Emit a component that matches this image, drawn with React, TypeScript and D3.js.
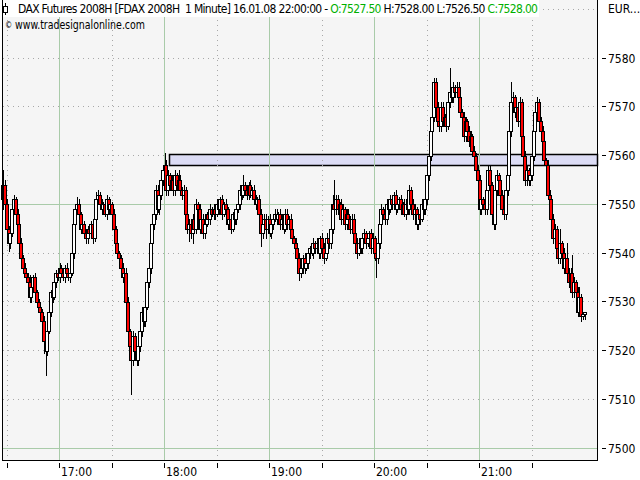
import React from "react";
import * as d3 from "d3";

// 1-minute closes from 16:28 to 22:00 (16.01.2008)
const firstOpen = 7551;
const closes = [
  7554, 7550, 7545, 7542, 7544, 7549, 7551, 7548, 7546, 7542,
  7539, 7537, 7536, 7535, 7534, 7531, 7533, 7535, 7532, 7530,
  7529, 7528, 7526, 7522, 7520, 7524, 7528, 7532, 7531, 7534,
  7536, 7535, 7537, 7536, 7535, 7537, 7536, 7535, 7536, 7540,
  7546, 7549, 7550, 7548, 7545, 7546, 7544, 7543, 7545, 7544,
  7546, 7543, 7547, 7551, 7552, 7550, 7549, 7550, 7548, 7551,
  7549, 7550, 7548, 7545, 7542, 7540, 7539, 7537, 7535, 7536,
  7530, 7524, 7521, 7518, 7523, 7520, 7518, 7521, 7524, 7528,
  7526, 7529, 7534, 7537, 7542, 7546, 7548, 7553, 7549, 7552,
  7555, 7557, 7558, 7553, 7556, 7554, 7555, 7553, 7556, 7554,
  7555, 7553, 7552, 7553, 7548, 7545, 7546, 7544, 7547, 7545,
  7550, 7549, 7545, 7547, 7544, 7546, 7548, 7547, 7549, 7548,
  7549, 7548, 7550, 7549, 7551, 7548, 7550, 7549, 7546, 7547,
  7545, 7548, 7547, 7549, 7550, 7553, 7552, 7554, 7553, 7552,
  7554, 7552, 7553, 7551, 7550, 7551, 7548, 7544, 7546, 7547,
  7545, 7547, 7544, 7546, 7547, 7548, 7547, 7548, 7546, 7547,
  7545, 7548, 7546, 7547, 7545, 7543, 7542, 7541, 7539, 7536,
  7537, 7539, 7537, 7538, 7540, 7541, 7540, 7542, 7541, 7542,
  7540, 7543, 7541, 7539, 7540, 7543, 7542, 7545, 7550, 7549,
  7551, 7549, 7550, 7547, 7549, 7546, 7548, 7547, 7545, 7547,
  7544, 7542, 7540, 7542, 7541, 7543, 7544, 7542, 7543, 7544,
  7541, 7543, 7540, 7539, 7542, 7546, 7549, 7548, 7547, 7550,
  7549, 7551, 7550, 7552, 7549, 7550, 7551, 7549, 7550, 7548,
  7550, 7549, 7553, 7550, 7548, 7549, 7546, 7548, 7547, 7550,
  7549, 7551, 7556, 7560, 7565, 7568, 7575, 7570, 7567, 7566,
  7570, 7567, 7568, 7566, 7571, 7573, 7572, 7574, 7573, 7574,
  7572, 7569, 7568, 7564, 7567, 7565, 7563, 7564, 7561, 7560,
  7557, 7555, 7549, 7551, 7550, 7549, 7553, 7557, 7554, 7548,
  7546, 7553, 7556, 7555, 7552, 7549, 7548, 7553, 7556, 7565,
  7571, 7572, 7569, 7570, 7567, 7571, 7564, 7560, 7555, 7557,
  7555, 7556, 7560, 7565, 7569, 7571, 7567, 7565, 7563, 7559,
  7558, 7552, 7551, 7547, 7543, 7545, 7541, 7539, 7542, 7540,
  7537, 7539, 7536, 7534, 7536, 7532, 7534, 7532, 7528, 7531,
  7527, 7527.5, 7528,
];
// wick length above max(open, close) and below min(open, close), in points
const upWicks = [
  3, 1, 1, 0.5, 1, 1.5, 1, 0.5, 1, 0.5,
  1, 0.5, 1, 0.5, 1, 1.5, 1, 0.5, 1, 0.5,
  0.5, 1, 0.5, 1, 0.5, 1, 1, 0.5, 1.5, 1,
  0.5, 1, 1, 0.5, 1, 0.5, 1, 0.5, 1, 1,
  1, 1, 1.5, 1, 0.5, 1, 0.5, 1, 0.5, 1,
  0.5, 1, 1, 1.5, 1, 0.5, 1, 0.5, 1, 1,
  0.5, 1, 0.5, 1, 0.5, 1, 0.5, 0.5, 1, 1,
  1, 1, 0.5, 1, 1, 0.5, 1, 0.5, 1, 1,
  1, 0.5, 1, 1, 1, 1, 1.5, 1, 1, 1,
  1, 1, 2.5, 1, 1, 0.5, 1, 0.5, 1, 0.5,
  2, 1, 0.5, 1, 0.5, 1, 1, 0.5, 1, 1,
  1, 0.5, 1, 0.5, 1, 1, 0.5, 1, 1, 0.5,
  1, 0.5, 1, 1, 0.5, 1, 0.5, 1, 0.5, 1,
  1, 0.5, 1, 0.5, 1, 1, 0.5, 2, 0.5, 1,
  0.5, 1, 0.5, 1, 1, 0.5, 1, 1, 0.5, 1,
  1, 0.5, 1, 1, 0.5, 1, 1, 0.5, 1, 1,
  0.5, 1, 1, 0.5, 1, 1, 0.5, 1, 0.5, 1,
  1, 0.5, 1, 0.5, 1, 0.5, 1, 1, 0.5, 1,
  1, 0.5, 1, 1, 0.5, 1, 0.5, 1, 2, 5,
  1, 1, 0.5, 1, 1, 0.5, 1, 1, 0.5, 1,
  1, 0.5, 1, 1, 0.5, 1, 1, 0.5, 1, 0.5,
  1, 1, 0.5, 1, 1, 1, 1, 0.5, 1, 1,
  0.5, 1, 1, 0.5, 1, 1, 0.5, 1, 0.5, 1,
  1, 0.5, 1, 0.5, 1, 1, 0.5, 1, 0.5, 1,
  1, 1, 1, 1, 1, 1, 1, 1, 1, 1,
  1, 1, 0.5, 1, 1, 5, 1, 1, 0.5, 1,
  1, 1, 0.5, 1, 1, 0.5, 1, 1, 0.5, 1,
  0.5, 1, 1, 1, 0.5, 1, 1, 1, 1, 0.5,
  1, 1, 1, 0.5, 1, 1, 0.5, 1, 1, 1,
  4, 1, 0.5, 1, 1, 1, 0.5, 1, 1, 1,
  0.5, 1, 1, 1, 1, 1, 0.5, 1, 1, 1,
  0.5, 1, 1, 0.5, 1, 1, 0.5, 1, 3, 0.5,
  1, 1, 3, 1, 1, 3.5, 1, 0.5, 1, 2,
  0.5, 0.5, 0,
];
const downWicks = [
  2, 3, 1, 1.5, 1, 0.5, 1, 1, 0.5, 1,
  1, 0.5, 1, 1, 0.5, 1, 1, 0.5, 1, 1,
  1, 0.5, 1, 2.5, 5, 1, 0.5, 1, 1, 0.5,
  1, 0.5, 1, 1, 0.5, 1, 1, 0.5, 1, 0.5,
  1, 0.5, 1, 1, 1, 0.5, 1, 1, 1, 0.5,
  1, 1, 0.5, 1, 1, 0.5, 1, 1, 0.5, 1,
  1, 0.5, 1, 1, 1, 0.5, 1, 1, 1, 0.5,
  1, 2, 1.5, 7, 1, 1.5, 1, 1, 1, 1,
  1, 1, 0.5, 1, 1, 0.5, 1, 1, 0.5, 1,
  1, 1, 0.5, 1, 1, 1, 0.5, 1, 1, 1,
  0.5, 1, 1, 1, 1, 1, 2.5, 1, 2, 1,
  1, 1, 1, 0.5, 1, 1, 0.5, 1, 1, 0.5,
  1, 1, 0.5, 1, 1, 1, 0.5, 1, 1, 1,
  1, 0.5, 1, 1, 0.5, 1, 1, 0.5, 1, 1,
  1, 0.5, 1, 1, 1, 0.5, 1, 2.5, 1, 0.5,
  2, 1, 0.5, 1, 1, 0.5, 1, 1, 1, 1,
  1, 0.5, 1, 1, 0.5, 1, 1, 1, 1.5, 1.5,
  1, 1, 1, 0.5, 1, 1, 0.5, 1, 1, 1,
  1, 1, 1, 1, 0.5, 1, 1, 1, 1, 0.5,
  1, 1, 0.5, 1, 1, 1, 1, 0.5, 1, 1,
  1, 1, 1, 0.5, 1, 1, 1, 1, 0.5, 1,
  1, 1, 1.5, 4, 1, 1, 1, 0.5, 1, 1,
  1, 0.5, 1, 1, 1, 0.5, 1, 1, 1, 0.5,
  1, 1, 1, 1, 1, 0.5, 1, 1, 1, 0.5,
  1, 1, 1, 1, 1, 1, 1, 1, 1, 1,
  1, 1, 1, 1, 0.5, 1, 1, 1, 1, 1,
  1, 1, 1, 1, 1, 1, 1, 1, 1, 1,
  1, 1.5, 1, 1, 1, 1, 1, 1, 1, 1,
  1, 1, 1, 1, 1, 1, 1, 1, 1, 1,
  1, 1, 1, 1, 1, 1, 1, 1, 1, 1,
  1, 1, 1, 1, 1, 1, 1, 1, 1, 1,
  1, 1, 1, 1, 1, 1, 1, 1, 1, 1,
  1, 1, 1, 1, 1, 1, 1, 1, 1, 1,
  1, 0.5, 1,
];
const priceTicks = [7500, 7510, 7520, 7530, 7540, 7550, 7560, 7570, 7580];
const gridPrices = [7500, 7510, 7520, 7530, 7540, 7550, 7560, 7570, 7580, 7590];
const solidPrices = [7500, 7550];
const bandPrices = [7560.3, 7558];
const titleText = "DAX Futures 2008H [FDAX 2008H  1 Minute] 16.01.08 22:00:00 - ";
const copyrightText = "www.tradesignalonline.com";
const currencyText = "EUR...";

const T = (h: number, m: number) => new Date(2008, 0, 16, h, m);

export default function App() {
  const x = d3.scaleTime().domain([T(17, 0), T(22, 0)]).range([59.5, 584.5]);
  const y = d3.scaleLinear().domain([7500, 7580]).range([448, 58]);

  const bars = closes.map((c, i) => {
    const o = i === 0 ? firstOpen : closes[i - 1];
    return {
      t: T(16, 28 + i),
      o,
      c,
      h: Math.max(o, c) + upWicks[i],
      l: Math.min(o, c) - downWicks[i],
    };
  });
  const last = bars[bars.length - 1];

  const gridTimes = d3.timeMinute.every(30)!.range(T(16, 30), T(21, 31));
  const fmt = d3.timeFormat("%H:%M");
  const font = "'Liberation Sans Narrow', 'DejaVu Sans Condensed', 'Liberation Sans', Arial, sans-serif";
  const green = "#00b000";
  const gridGreen = "#a9cba9";
  const dotGray = "#a8a8a8";
  const left = 2.5, right = 597.5, bottom = 460.5;
  const crisp = (v: number) => Math.round(v - 0.5) + 0.5;

  const bandStart = T(18, 3);

  return (
    <svg
      width={640}
      height={480}
      style={{ position: "absolute", left: 0, top: 0, display: "block", background: "#fff" }}
      fontFamily={font}
    >
      <rect x={0} y={0} width={640} height={480} fill="#ffffff" />
      <rect x={left} y={0} width={right - left} height={bottom} fill="#f5f5f5" />

      {/* band */}
      <rect
        x={crisp(x(bandStart))}
        y={crisp(y(bandPrices[0]))}
        width={right - crisp(x(bandStart))}
        height={crisp(y(bandPrices[1])) - crisp(y(bandPrices[0]))}
        fill="#dcdcf5"
        stroke="#000"
        strokeWidth={1.5}
      />

      {/* grid */}
      {gridPrices.map((p) => {
        const yy = crisp(y(p));
        const solid = solidPrices.includes(p);
        return (
          <line
            key={"h" + p}
            x1={left}
            x2={right}
            y1={yy}
            y2={yy}
            stroke={solid ? gridGreen : dotGray}
            strokeDasharray={solid ? undefined : "1,4"}
            shapeRendering="crispEdges"
          />
        );
      })}
      {gridTimes.map((t) => {
        const xx = crisp(x(t));
        const solid = t.getMinutes() === 0;
        return (
          <line
            key={"v" + t.getTime()}
            x1={xx}
            x2={xx}
            y1={0}
            y2={bottom}
            stroke={solid ? gridGreen : dotGray}
            strokeDasharray={solid ? undefined : "1,4"}
            shapeRendering="crispEdges"
          />
        );
      })}

      {/* candles */}
      {bars.map((b, i) => {
        const X = Math.round(x(b.t)) - 2;
        const yt = Math.round(y(Math.max(b.o, b.c)));
        const yb = Math.round(y(Math.min(b.o, b.c)));
        const up = b.c > b.o;
        return (
          <g key={i} shapeRendering="crispEdges">
            <line x1={X + 2.5} x2={X + 2.5} y1={Math.round(y(b.h))} y2={Math.round(y(b.l)) + 1} stroke="#000" />
            {yb > yt ? (
              <rect x={X + 0.5} y={yt + 0.5} width={3} height={yb - yt} fill={up ? "#ffffff" : "#ff0000"} stroke="#000" />
            ) : (
              <line x1={X} x2={X + 4} y1={yt + 0.5} y2={yt + 0.5} stroke="#000" />
            )}
          </g>
        );
      })}

      {/* frame */}
      <line x1={left} x2={left} y1={0} y2={bottom} stroke="#000" shapeRendering="crispEdges" />
      <line x1={right} x2={right} y1={0} y2={bottom} stroke="#000" shapeRendering="crispEdges" />
      <line x1={left} x2={right} y1={bottom} y2={bottom} stroke="#000" shapeRendering="crispEdges" />

      {/* title */}
      <rect x={3} y={0} width={536} height={17} fill="#ffffff" />
      <g shapeRendering="crispEdges">
        <line x1={5.5} x2={5.5} y1={3} y2={15} stroke="#000" />
        <rect x={3.5} y={6.5} width={4} height={6} fill="#fff" stroke="#000" />
      </g>
      <text x={18} y={13} fontSize={12} textLength={520} lengthAdjust="spacing" style={{ whiteSpace: "pre" }} fill="#000">
        <tspan>{titleText}</tspan>
        <tspan fill={green}>{"O:" + last.o.toFixed(2)}</tspan>
        <tspan>{" H:" + last.h.toFixed(2) + " L:" + last.l.toFixed(2) + " "}</tspan>
        <tspan fill={green}>{"C:" + last.c.toFixed(2)}</tspan>
      </text>
      <text x={5} y={28} fontSize={8} fill="#000">©</text>
      <text x={15} y={29} fontSize={12} textLength={130} lengthAdjust="spacingAndGlyphs" fill="#000">{copyrightText}</text>
      <text x={608} y={13} fontSize={12} fill="#000">{currencyText}</text>

      {/* y axis */}
      {priceTicks.map((p) => {
        const yy = crisp(y(p));
        return (
          <g key={"yt" + p}>
            <line x1={602} x2={606} y1={yy} y2={yy} stroke="#000" shapeRendering="crispEdges" />
            <text x={608} y={yy + 4.5} fontSize={12} fill="#000">{p}</text>
          </g>
        );
      })}

      {/* x axis */}
      {gridTimes.map((t) => {
        const xx = crisp(x(t));
        return (
          <g key={"xt" + t.getTime()}>
            <line x1={xx} x2={xx} y1={463} y2={468} stroke="#000" shapeRendering="crispEdges" />
            {t.getMinutes() === 0 && (
              <text x={xx + 1.5} y={476} fontSize={12} fill="#000">{fmt(t)}</text>
            )}
          </g>
        );
      })}
    </svg>
  );
}
